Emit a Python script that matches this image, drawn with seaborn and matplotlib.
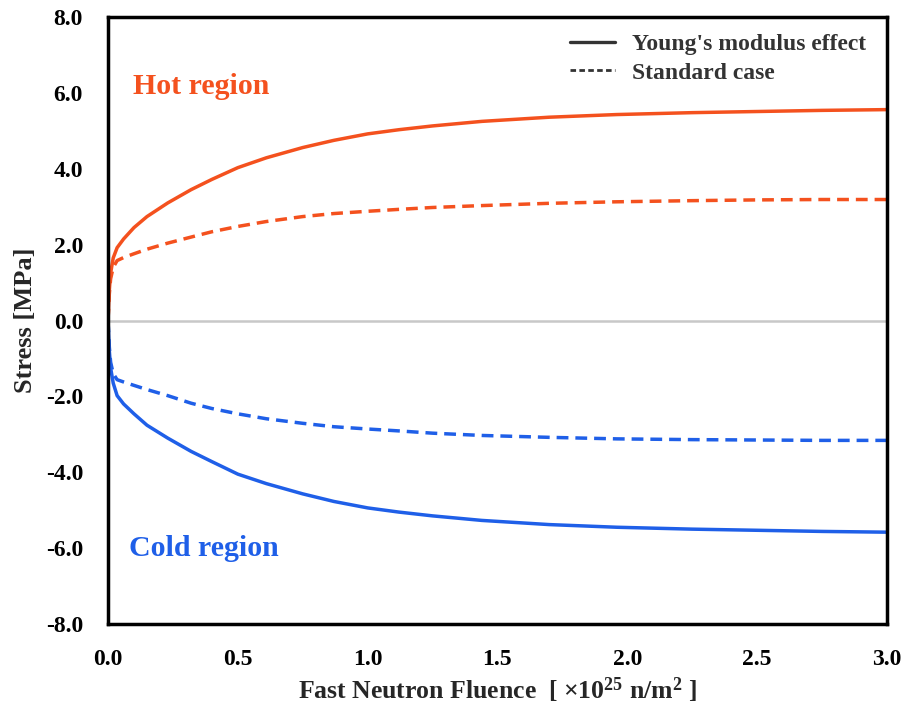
import matplotlib
matplotlib.use("Agg")
import matplotlib.pyplot as plt
import seaborn as sns
import pandas as pd
from matplotlib.lines import Line2D
from matplotlib.ticker import FormatStrFormatter

# ---- data ----
fluence = [0.0, 0.005, 0.01, 0.02, 0.035, 0.06, 0.1, 0.15, 0.23, 0.32, 0.4, 0.5,
           0.61, 0.75, 0.87, 1.0, 1.12, 1.25, 1.44, 1.7, 1.96, 2.25, 2.5, 2.75, 3.0]
hot_young = [0.0, 0.8, 1.25, 1.65, 1.92, 2.15, 2.45, 2.74, 3.1, 3.45, 3.72, 4.03,
             4.29, 4.56, 4.75, 4.92, 5.03, 5.13, 5.25, 5.36, 5.43, 5.48, 5.51, 5.54, 5.56]
hot_standard = [0.0, 0.7, 1.1, 1.4, 1.58, 1.66, 1.76, 1.88, 2.04, 2.2, 2.34, 2.48,
                2.61, 2.74, 2.82, 2.88, 2.93, 2.98, 3.03, 3.09, 3.13, 3.16, 3.18, 3.19, 3.19]
cold_young = [0.0, -0.8, -1.25, -1.65, -1.98, -2.2, -2.46, -2.76, -3.1, -3.45, -3.72, -4.05,
              -4.3, -4.57, -4.77, -4.94, -5.05, -5.15, -5.27, -5.38, -5.45, -5.5, -5.53, -5.56, -5.58]
cold_standard = [0.0, -0.7, -1.1, -1.4, -1.56, -1.62, -1.71, -1.82, -1.98, -2.18, -2.32, -2.46,
                 -2.59, -2.71, -2.8, -2.86, -2.91, -2.97, -3.03, -3.08, -3.12, -3.14, -3.15, -3.16, -3.16]
x_ticks = [0.0, 0.5, 1.0, 1.5, 2.0, 2.5, 3.0]
y_ticks = [-8.0, -6.0, -4.0, -2.0, 0.0, 2.0, 4.0, 6.0, 8.0]
series_names = ["Young's modulus effect", "Standard case"]

ORANGE = "#F4511E"
BLUE = "#1F5FE8"

sns.set_theme(style="white")
plt.rcParams['font.family'] = ['Liberation Serif', 'DejaVu Serif']
plt.rcParams['font.weight'] = 'bold'
plt.rcParams['mathtext.fontset'] = 'custom'
plt.rcParams['mathtext.rm'] = 'Liberation Serif:bold'
plt.rcParams['mathtext.it'] = 'Liberation Serif:bold'
plt.rcParams['mathtext.bf'] = 'Liberation Serif:bold'

rows = []
for region, yv, sv in [("Hot", hot_young, hot_standard), ("Cold", cold_young, cold_standard)]:
    for f, a, b in zip(fluence, yv, sv):
        rows.append({"fluence": f, "stress": a, "region": region, "case": series_names[0]})
        rows.append({"fluence": f, "stress": b, "region": region, "case": series_names[1]})
df = pd.DataFrame(rows)

fig = plt.figure(figsize=(9.04, 7.11), dpi=100)
ax = fig.add_axes([0.1195, 0.1224, 0.8615, 0.8536])

ax.axhline(0, color="#c8c8c8", lw=1.8, zorder=1)

sns.lineplot(data=df, x="fluence", y="stress", hue="region", style="case",
             palette={"Hot": ORANGE, "Cold": BLUE},
             dashes={series_names[0]: "", series_names[1]: (3.4, 2.0)},
             linewidth=2.5, ax=ax, legend=False, sort=False, estimator=None)

ax.set_xlim(0, 3.0)
ax.set_ylim(-8, 8)
ax.set_xticks(x_ticks)
ax.set_yticks(y_ticks)
ax.xaxis.set_major_formatter(FormatStrFormatter("%.1f"))
ax.yaxis.set_major_formatter(FormatStrFormatter("%.1f"))
ax.tick_params(direction="in", length=6, width=2, labelsize=17, color="black",
               labelcolor="black", pad=18)
for lab in ax.get_xticklabels() + ax.get_yticklabels():
    lab.set_fontweight("bold")
for sp in ax.spines.values():
    sp.set_linewidth(2.5)
    sp.set_color("black")

ax.set_xlabel(r"Fast Neutron Fluence  [ $\times$10$^{25}$ n/m$^{2}$ ]", fontsize=18.5,
              fontweight="bold", labelpad=4)
ax.set_ylabel("Stress [MPa]", fontsize=19, fontweight="bold", labelpad=6)

ax.text(0.097, 6.17, "Hot region", color=ORANGE, fontsize=21.5, fontweight="bold",
        ha="left", va="center")
ax.text(0.082, -6.02, "Cold region", color=BLUE, fontsize=21.5, fontweight="bold",
        ha="left", va="center")

handles = [Line2D([], [], color="#333333", lw=2.4, ls="-"),
           Line2D([], [], color="#333333", lw=2.0, ls=(0, (2.0, 1.2)))]
leg = ax.legend(handles, series_names, loc="upper right", frameon=False,
                fontsize=17, handlelength=1.9, handletextpad=0.75,
                borderaxespad=0.3, labelspacing=0.3,
                bbox_to_anchor=(0.995, 1.0))
for t in leg.get_texts():
    t.set_color("#333333")
    t.set_fontweight("bold")

fig.savefig("out.png", dpi=100)
